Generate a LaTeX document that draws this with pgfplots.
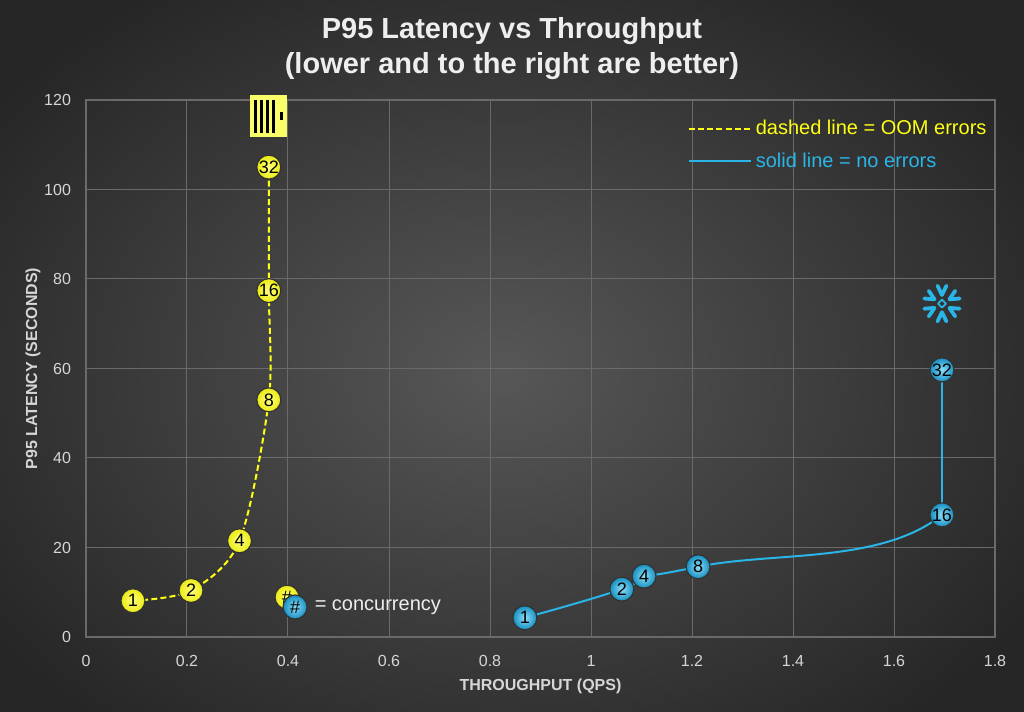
\documentclass[border=0pt]{standalone}
\usepackage{fontspec}
\setmainfont{Liberation Sans}
\usepackage{pgfplots}
\pgfplotsset{compat=1.18}
\definecolor{bgcenter}{HTML}{575757}
\definecolor{bgedge}{HTML}{262626}
\definecolor{ylw}{HTML}{FFFF14}
\definecolor{chy}{HTML}{FAFF69}
\definecolor{blu}{HTML}{29B5E8}
\definecolor{bludark}{HTML}{1590C2}
\definecolor{bluelight}{HTML}{8EDCF7}
\definecolor{gridc}{HTML}{6A6A6A}
\definecolor{tickc}{HTML}{D6D6D6}
\definecolor{titlec}{HTML}{EEEEEE}

\tikzset{
  yball/.style={circle, inner sep=0pt, minimum size=12pt, draw=black!80, line width=0.6pt,
    inner color=ylw!55!white, outer color=ylw!92!black, text=black,
    font=\fontsize{9}{9}\selectfont, anchor=center},
  bball/.style={circle, inner sep=0pt, minimum size=12pt, draw=black!80, line width=0.6pt,
    inner color=bluelight, outer color=bludark, text=black,
    font=\fontsize{9}{9}\selectfont, anchor=center},
}

\begin{document}
\begin{tikzpicture}
\useasboundingbox (0,0) rectangle (512pt,356pt);
\shade[inner color=bgcenter, outer color=bgedge] (-60pt,-60pt) rectangle (560pt,400pt);
\node[font=\bfseries\fontsize{14.5}{17.5}\selectfont, text=titlec, align=center] at (256pt,331.5pt)
  {P95 Latency vs Throughput\\(lower and to the right are better)};
\begin{axis}[
  at={(43pt,37.5pt)}, anchor=south west, scale only axis,
  width=454.5pt, height=268.5pt,
  xmin=0, xmax=1.8, ymin=0, ymax=120,
  xtick={0,0.2,0.4,0.6,0.8,1,1.2,1.4,1.6,1.8},
  ytick={0,20,40,60,80,100,120},
  grid=major, major grid style={gridc, line width=0.5pt},
  axis line style={gridc, line width=0.6pt},
  tick style={draw=none},
  /pgf/number format/assume math mode=true,
  xticklabel style={/pgf/number format/fixed},
  ticklabel style={font=\fontsize{8}{9}\selectfont, text=tickc},
  xticklabel style={yshift=-5.5pt},
  yticklabel style={xshift=-4pt},
  xlabel={THROUGHPUT (QPS)}, ylabel={P95 LATENCY (SECONDS)},
  label style={font=\bfseries\fontsize{8}{9}\selectfont, text=tickc},
  xlabel style={yshift=0.5pt},
  ylabel style={yshift=-5pt},
  clip=false,
  legend style={at={(0.655,0.978)}, anchor=north west, draw=none, fill=none,
    font=\fontsize{10}{11}\selectfont, row sep=3.5pt},
  legend cell align=left,
  legend image code/.code={\draw[#1] (0pt,0pt) -- (31pt,0pt);},
]
\addlegendimage{ylw, line width=1pt, dash pattern=on 3pt off 1.6pt}
\addlegendentry{\textcolor{ylw}{dashed line = OOM errors}}
\addlegendimage{blu, line width=1pt}
\addlegendentry{\textcolor{blu}{solid line = no errors}}

% Yellow series (OOM errors)
\addplot[ylw, line width=1pt, dash pattern=on 3pt off 1.6pt, smooth, forget plot]
  coordinates {(0.093,8.1) (0.208,10.4) (0.304,21.5) (0.362,53.0) (0.362,77.4) (0.362,105.0)};
% Blue series (no errors)
\begin{scope}
\clip (axis cs:0.8,0) rectangle (axis cs:1.8,27.3);
\addplot[blu, line width=1pt, smooth, tension=0.9, forget plot]
  coordinates {(0.869,4.3) (1.061,10.7) (1.105,13.6) (1.212,15.7) (1.695,27.3) (1.695,59.7)};
\end{scope}
\addplot[blu, line width=1pt, forget plot]
  coordinates {(1.695,27.3) (1.695,59.7)};

\addplot[only marks, mark=*, mark size=0.01pt, mark options={draw=none, fill=none},
  nodes near coords, point meta=explicit symbolic,
  nodes near coords style={yball}, forget plot]
  coordinates {(0.093,8.1)[1] (0.208,10.4)[2] (0.304,21.5)[4] (0.362,53.0)[8] (0.362,77.4)[16] (0.362,105.0)[32]};
\addplot[only marks, mark=*, mark size=0.01pt, mark options={draw=none, fill=none},
  nodes near coords, point meta=explicit symbolic,
  nodes near coords style={bball}, forget plot]
  coordinates {(0.869,4.3)[1] (1.061,10.7)[2] (1.105,13.6)[4] (1.212,15.7)[8] (1.695,27.3)[16] (1.695,59.7)[32]};

% key for the numbered markers
\addplot[only marks, mark=*, mark size=0.01pt, mark options={draw=none, fill=none},
  nodes near coords, point meta=explicit symbolic,
  nodes near coords style={yball}, forget plot]
  coordinates {(0.398,8.9)[\#]};
\addplot[only marks, mark=*, mark size=0.01pt, mark options={draw=none, fill=none},
  nodes near coords, point meta=explicit symbolic,
  nodes near coords style={bball}, forget plot]
  coordinates {(0.414,6.7)[\#]};
\node[anchor=west, text=titlec, font=\fontsize{10}{11}\selectfont] at (axis cs:0.439,6.7) {= concurrency};

\coordinate (CH) at (axis cs:0.361,116.5);
\coordinate (SF) at (axis cs:1.695,74.5);
\end{axis}

% ClickHouse logo
\begin{scope}[shift={(CH)}]
  \fill[chy] (-9.35pt,-10.5pt) rectangle (9.35pt,10.5pt);
  \foreach \x in {-7.35,-4.35,-1.35,1.65}
    \fill[black] (\x pt,-8.65pt) rectangle ++(1.65pt,16.3pt);
  \fill[black] (5.65pt,-2pt) rectangle (7.15pt,1.85pt);
\end{scope}

% Snowflake logo
\begin{scope}[shift={(SF)}, blu, line width=1.9pt, line cap=round, line join=round]
  \foreach \a in {30,90,150,210,270,330}
    \draw (\a+14:9.2pt) -- (\a:4.3pt) -- (\a-14:9.2pt);
  \draw[line width=0.9pt] (0,2pt) -- (2pt,0) -- (0,-2pt) -- (-2pt,0) -- cycle;
\end{scope}
\end{tikzpicture}
\end{document}
